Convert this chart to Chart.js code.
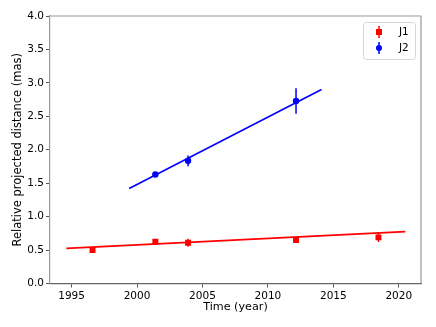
<!DOCTYPE html>
<html>
<head>
<meta charset="utf-8">
<script src="https://cdn.jsdelivr.net/npm/chart.js@4/dist/chart.umd.min.js"></script>
<style>
  html, body { margin: 0; padding: 0; background: #fff; }
  #wrap { width: 436px; height: 327px; }
</style>
</head>
<body>
<div id="wrap"><canvas id="chart" width="436" height="327"></canvas></div>
<script>
// data
const j1Years = [1996.6, 2001.4, 2003.9, 2012.15, 2018.45];
const j1Dist = [0.50, 0.625, 0.61, 0.65, 0.69];
const j1Err = [0.02, 0.02, 0.06, 0.02, 0.07];
const j1FitYears = [1994.6, 2020.5];
const j1FitDist = [0.525, 0.775];

const j2Years = [2001.4, 2003.9, 2012.15];
const j2Dist = [1.63, 1.835, 2.73];
const j2Err = [0.02, 0.08, 0.19];
const j2FitYears = [1999.4, 2014.1];
const j2FitDist = [1.42, 2.90];

const xTicks = [1995, 2000, 2005, 2010, 2015, 2020];
const yTicks = [0, 0.5, 1, 1.5, 2, 2.5, 3, 3.5, 4];
const seriesNames = ["J1", "J2"];
const seriesColors = ["#ff0000", "#0000ff"];
const FONT = "'DejaVu Sans', sans-serif";

function pts(xs, ys) {
    return xs.map((x, i) => ({ x: x, y: ys[i] }));
}

// vertical error bars, drawn through the scales
const errorBars = {
    id: "errorBars",
    beforeDatasetsDraw(chart) {
        const ctx = chart.ctx;
        const xs = chart.scales.x, ys = chart.scales.y;
        chart.data.datasets.forEach(ds => {
            if (!ds.errors) return;
            ctx.save();
            ctx.strokeStyle = ds.borderColor;
            ctx.lineWidth = 1.5;
            ds.data.forEach((p, i) => {
                const px = xs.getPixelForValue(p.x);
                ctx.beginPath();
                ctx.moveTo(px, ys.getPixelForValue(p.y - ds.errors[i]));
                ctx.lineTo(px, ys.getPixelForValue(p.y + ds.errors[i]));
                ctx.stroke();
            });
            ctx.restore();
        });
    }
};

// matplotlib-like legend in the upper right corner
const boxLegend = {
    id: "boxLegend",
    afterDraw(chart) {
        const ctx = chart.ctx;
        const a = chart.chartArea;
        const w = 52, h = 37;
        const x0 = a.right - 6 - w, y0 = a.top + 6;
        ctx.save();
        ctx.fillStyle = "rgba(255,255,255,0.8)";
        ctx.strokeStyle = "#d5d5d5";
        ctx.lineWidth = 1;
        ctx.beginPath();
        ctx.roundRect(x0 + 0.5, y0 + 0.5, w, h, 3);
        ctx.fill();
        ctx.stroke();
        ctx.font = "10.5px " + FONT;
        ctx.textBaseline = "middle";
        seriesNames.forEach((name, i) => {
            const cy = y0 + 10 + i * 16;
            const mx = x0 + 16;
            ctx.strokeStyle = seriesColors[i];
            ctx.fillStyle = seriesColors[i];
            ctx.lineWidth = 1.5;
            ctx.beginPath();
            ctx.moveTo(mx, cy - 6);
            ctx.lineTo(mx, cy + 6);
            ctx.stroke();
            if (i === 0) {
                ctx.fillRect(mx - 3, cy - 3, 6, 6);
            } else {
                ctx.beginPath();
                ctx.arc(mx, cy, 3, 0, Math.PI * 2);
                ctx.fill();
            }
            ctx.fillStyle = "#000";
            ctx.fillText(name, x0 + 36, cy + 0.5);
        });
        ctx.restore();
    }
};

new Chart("chart", {
    type: "scatter",
    data: {
        datasets: [
            {
                type: "line", data: pts(j1FitYears, j1FitDist),
                borderColor: seriesColors[0], borderWidth: 1.6,
                pointRadius: 0, fill: false
            },
            {
                type: "line", data: pts(j2FitYears, j2FitDist),
                borderColor: seriesColors[1], borderWidth: 1.6,
                pointRadius: 0, fill: false
            },
            {
                label: seriesNames[0], data: pts(j1Years, j1Dist), errors: j1Err,
                pointStyle: "rect", pointRadius: 4.2, borderWidth: 0,
                backgroundColor: seriesColors[0], borderColor: seriesColors[0]
            },
            {
                label: seriesNames[1], data: pts(j2Years, j2Dist), errors: j2Err,
                pointStyle: "circle", pointRadius: 3.2, borderWidth: 0,
                backgroundColor: seriesColors[1], borderColor: seriesColors[1]
            }
        ]
    },
    options: {
        responsive: false,
        animation: false,
        layout: { padding: { top: 16, right: 15, left: 11, bottom: 13 } },
        plugins: { legend: { display: false }, tooltip: { enabled: false } },
        scales: {
            x: {
                type: "linear", min: 1993.35, max: 2021.7,
                afterBuildTicks: s => { s.ticks = xTicks.map(v => ({ value: v })); },
                afterFit: s => { s.height = 30.5; },
                grid: { display: true, drawOnChartArea: false, drawTicks: true, tickLength: 4, color: "#555" },
                border: { color: "#666", width: 1.2 },
                ticks: { color: "#000", font: { family: FONT, size: 10.5 }, padding: 2, maxRotation: 0,
                    callback: v => String(v) },
                title: { display: true, text: "Time (year)", color: "#000",
                    font: { family: FONT, size: 11.2 }, padding: { top: 0, bottom: 0 } }
            },
            y: {
                min: 0, max: 4,
                afterBuildTicks: s => { s.ticks = yTicks.map(v => ({ value: v })); },
                afterFit: s => { s.width = 39; },
                grid: { display: true, drawOnChartArea: false, drawTicks: true, tickLength: 4, color: "#555" },
                border: { color: "#999", width: 1.2 },
                ticks: { color: "#000", font: { family: FONT, size: 10.5 }, padding: 2,
                    callback: v => v.toFixed(1) },
                title: { display: true, text: "Relative projected distance (mas)", color: "#000",
                    font: { family: FONT, size: 11.5 }, padding: { top: 0, bottom: 0 } }
            }
        }
    },
    plugins: [errorBars, boxLegend, {
        id: "frame",
        afterDraw(chart) {
            const a = chart.chartArea, ctx = chart.ctx;
            ctx.save();
            ctx.strokeStyle = "#999";
            ctx.lineWidth = 1.2;
            ctx.beginPath();
            ctx.moveTo(a.left, a.top);
            ctx.lineTo(a.right, a.top);
            ctx.lineTo(a.right, a.bottom);
            ctx.stroke();
            ctx.restore();
        }
    }]
});
</script>
</body>
</html>
